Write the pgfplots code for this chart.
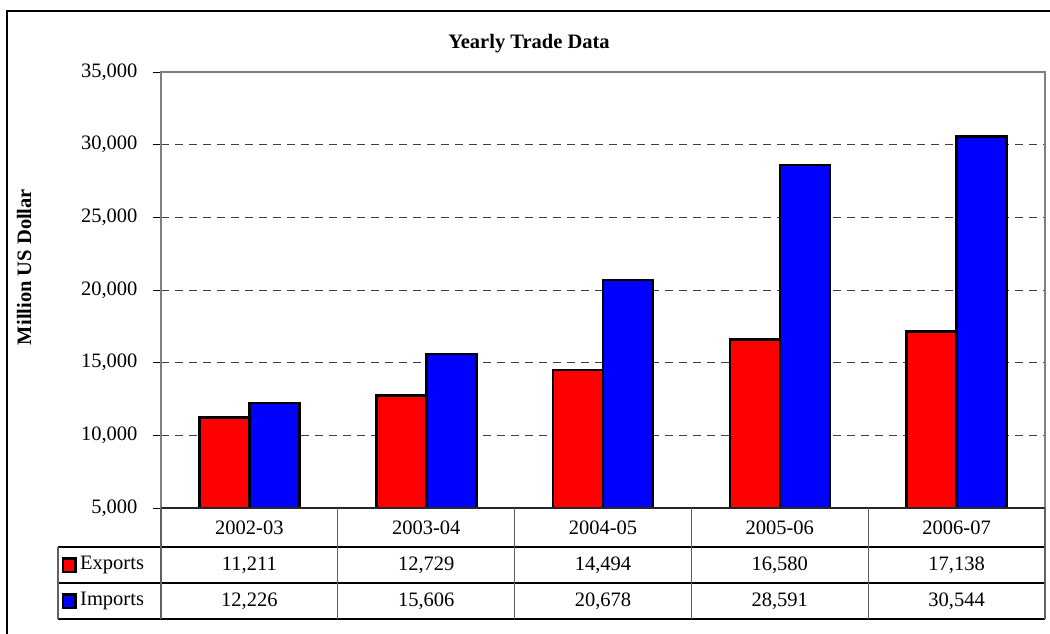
\documentclass[border=0pt]{standalone}
\usepackage{fontspec}
\setmainfont{Liberation Serif}
\usepackage{pgfplots}
\pgfplotsset{compat=1.18}
\definecolor{axgray}{HTML}{808080}
\definecolor{gridgray}{HTML}{404040}
\definecolor{tblgray}{HTML}{606060}
\newcommand{\fs}{\fontsize{20.5}{24}\selectfont}
\begin{document}
\begin{tikzpicture}[x=1pt,y=1pt]
\useasboundingbox (0,0) rectangle (1050,633);
\clip (0,0) rectangle (1050,633);
\fill[white] (0,0) rectangle (1050,633);
\draw[line width=2pt] (7,-30) rectangle (1080,622);
\node[font=\fs\bfseries] at (529,589) {Yearly Trade Data};
\node[font=\fs\bfseries, rotate=90] at (24,366) {Million US Dollar};
\begin{axis}[
  at={(161pt,125pt)}, anchor=south west,
  width=884pt, height=436pt, scale only axis,
  ybar=0pt, bar width=50pt,
  ymin=5000, ymax=35000, xmin=-0.5, xmax=4.5,
  xtick=\empty,
  ytick={5000,10000,15000,20000,25000,30000,35000},
  ytick pos=left, tick align=outside,
  major tick length=8pt,
  tick style={black, line width=1pt},
  ymajorgrids,
  grid style={gridgray, line width=0.9pt, dash pattern=on 8pt off 6pt},
  axis line style={axgray, line width=2.6pt},
  yticklabel style={font=\fs, xshift=-12pt, /pgf/number format/1000 sep={,}, /pgf/number format/assume math mode=true},
  scaled y ticks=false,
  clip=false,
]
\addplot[fill=red, draw=black, line width=2.6pt] coordinates {(0,11211) (1,12729) (2,14494) (3,16580) (4,17138)};
\addplot[fill=blue, draw=black, line width=2.6pt] coordinates {(0,12226) (1,15606) (2,20678) (3,28591) (4,30544)};
\end{axis}
% data table
\draw[black!85, line width=2pt] (161,125) -- (1045,125);
\draw[black, line width=1.2pt] (58,86) -- (1045,86);
\draw[black, line width=1.2pt] (58,50) -- (1045,50);
\draw[black, line width=1.2pt] (58,14) -- (1045,14);
\draw[tblgray, line width=1.2pt] (58,14) -- (58,86);
\foreach \k in {0,...,5} { \draw[tblgray, line width=1.2pt] ({161+176.8*\k},14) -- ({161+176.8*\k},125); }
\foreach \lab [count=\i from 0] in {2002-03,2003-04,2004-05,2005-06,2006-07} {
  \node[font=\fs] at ({249.4+176.8*\i},105.5) {\lab};
}
\foreach \v [count=\i from 0] in {11{,}211,12{,}729,14{,}494,16{,}580,17{,}138} {
  \node[font=\fs] at ({249.4+176.8*\i},68) {\v};
}
\foreach \v [count=\i from 0] in {12{,}226,15{,}606,20{,}678,28{,}591,30{,}544} {
  \node[font=\fs] at ({249.4+176.8*\i},32) {\v};
}
\draw[fill=red, draw=black, line width=2.2pt] (63,61) rectangle (75.5,74.5);
\draw[fill=blue, draw=black, line width=2.2pt] (63,25) rectangle (75.5,38.5);
\node[font=\fs, anchor=west, inner sep=0pt] at (80,68) {Exports};
\node[font=\fs, anchor=west, inner sep=0pt] at (80,32) {Imports};
\end{tikzpicture}
\end{document}
